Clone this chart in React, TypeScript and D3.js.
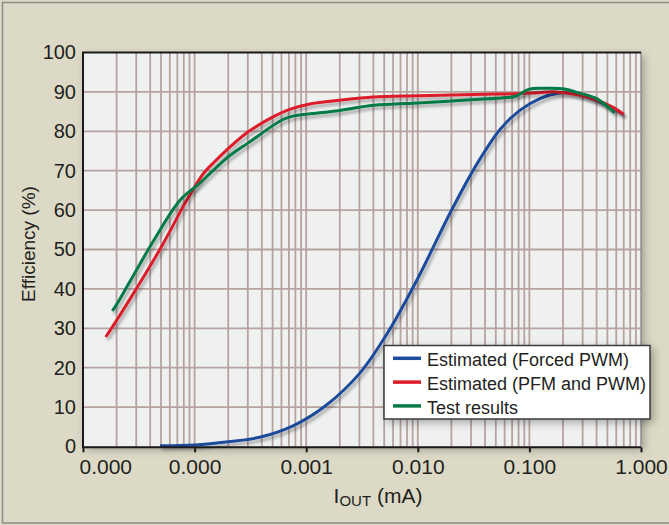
import React, { useEffect, useRef } from 'react';
import * as d3 from 'd3';

// Estimated (Forced PWM)
const forcedI = [4.9e-5, 1e-4, 2e-4, 3.9e-4, 7.7e-4, 1.5e-3, 3e-3, 5.3e-3, 9.8e-3, 2e-2, 3.4e-2, 5.5e-2, 8.2e-2, 0.124, 0.186, 0.25, 0.3, 0.4, 0.55, 0.7];
const forcedEff = [0.2, 0.4, 1.2, 2.4, 5.3, 10.4, 18.5, 28.6, 42.2, 59.9, 71.8, 80.6, 85.3, 88.3, 89.7, 89.6, 89, 87.8, 86, 84.2];

// Estimated (PFM and PWM)
const pfmI = [1.6e-5, 2e-5, 3e-5, 5e-5, 8.5e-5, 1.2e-4, 1.5e-4, 2e-4, 3e-4, 5e-4, 7e-4, 1.1e-3, 2e-3, 4e-3, 1e-2, 2e-2, 4e-2, 7e-2, 0.12, 0.17, 0.28, 0.4, 0.55, 0.7];
const pfmEff = [27.8, 32, 40, 50.5, 62.5, 69.3, 72.2, 75.6, 79.8, 83.6, 85.5, 87, 87.9, 88.7, 89, 89.2, 89.4, 89.5, 89.8, 90, 89.2, 87.9, 86.2, 84.3];

// Test results
const testI = [1.83e-5, 2e-5, 3e-5, 4.3e-5, 7.4e-5, 1.1e-4, 1.5e-4, 2e-4, 3e-4, 6.2e-4, 8e-4, 1.15e-3, 2e-3, 4e-3, 1e-2, 1.6e-2, 3e-2, 6.3e-2, 7.5e-2, 0.1, 0.13, 0.2, 0.28, 0.4, 0.58];
const testEff = [34.4, 36, 44.7, 52.3, 62.5, 66.7, 70.3, 73.5, 77, 83, 84, 84.5, 85.3, 86.6, 87.2, 87.5, 88, 88.6, 88.9, 90.7, 90.9, 90.8, 89.7, 88.3, 84.7];

const seriesNames = ['Estimated (Forced PWM)', 'Estimated (PFM and PWM)', 'Test results'];
const seriesColors = ['#1f4b9c', '#dd1c2a', '#067a46'];

const xTicks = [0.00001, 0.0001, 0.001, 0.01, 0.1, 1];
const yTicks = [0, 10, 20, 30, 40, 50, 60, 70, 80, 90, 100];

const font = '"Liberation Sans", Arial, sans-serif';
const ink = '#231f20';
const gridColor = '#b6a3a0';

const App = () => {
    const svgRef = useRef(null);

    useEffect(() => {
        const svg = d3.select(svgRef.current);
        svg.selectAll('*').remove();

        const width = 669, height = 525;
        const x = d3.scaleLog().domain([1e-5, 1]).range([83, 641]);
        const y = d3.scaleLinear().domain([0, 100]).range([446.5, 52.5]);

        // filters
        const defs = svg.append('defs');
        defs.append('filter').attr('id', 'lineShadow')
            .attr('x', '-10%').attr('y', '-10%').attr('width', '130%').attr('height', '130%')
            .append('feDropShadow')
            .attr('dx', 2).attr('dy', 3).attr('stdDeviation', 1.6)
            .attr('flood-color', '#000').attr('flood-opacity', 0.3);
        defs.append('filter').attr('id', 'boxShadow')
            .attr('x', '-10%').attr('y', '-10%').attr('width', '130%').attr('height', '130%')
            .append('feDropShadow')
            .attr('dx', 3).attr('dy', 3).attr('stdDeviation', 4)
            .attr('flood-color', '#000').attr('flood-opacity', 0.3);

        // page background
        svg.append('rect').attr('width', width).attr('height', height).attr('fill', '#dcdac6');
        svg.append('rect')
            .attr('x', 2.5).attr('y', 2.5).attr('width', 720).attr('height', 520.5)
            .attr('fill', 'none').attr('stroke', '#8d8c84').attr('stroke-width', 1.5);

        // plot area
        const [x0, x1] = x.range();
        const [yb, yt] = y.range();
        svg.append('rect')
            .attr('x', x0).attr('y', yt).attr('width', x1 - x0).attr('height', yb - yt)
            .attr('fill', '#eef1f0').attr('filter', 'url(#boxShadow)');

        // grid
        const grid = svg.append('g').attr('stroke', gridColor).attr('stroke-width', 1.8);
        grid.selectAll('line.v')
            .data(x.ticks().filter(d => x(d) > x0 + 1 && x(d) < x1 - 1))
            .enter().append('line')
            .attr('x1', d => x(d)).attr('x2', d => x(d))
            .attr('y1', yt).attr('y2', yb);
        grid.selectAll('line.h')
            .data(yTicks.filter(d => d > 0 && d < 100))
            .enter().append('line')
            .attr('x1', x0).attr('x2', x1)
            .attr('y1', d => y(d)).attr('y2', d => y(d));

        // curves
        const line = d3.line()
            .x(d => x(d[0]))
            .y(d => y(d[1]))
            .curve(d3.curveCatmullRom.alpha(0.5));
        const series = [
            d3.zip(forcedI, forcedEff),
            d3.zip(pfmI, pfmEff),
            d3.zip(testI, testEff),
        ];
        series.forEach((s, i) => {
            svg.append('path')
                .datum(s)
                .attr('fill', 'none')
                .attr('stroke', seriesColors[i])
                .attr('stroke-width', 3)
                .attr('stroke-linejoin', 'round')
                .attr('filter', 'url(#lineShadow)')
                .attr('d', line);
        });

        // frame
        svg.append('line').attr('x1', x1).attr('x2', x1).attr('y1', yt).attr('y2', yb)
            .attr('stroke', '#8f8f8f').attr('stroke-width', 1.5);
        svg.append('path')
            .attr('d', `M${x1},${yt}H${x0}V${yb + 0.8}H${x1}`)
            .attr('fill', 'none').attr('stroke', '#1a1a1a').attr('stroke-width', 2);

        // axes
        const xAxis = svg.append('g')
            .attr('transform', `translate(0,${yb + 0.8})`)
            .call(d3.axisBottom(x).tickValues(xTicks).tickSize(5).tickPadding(7).tickFormat(d3.format('.3f')));
        xAxis.select('.domain').remove();
        xAxis.selectAll('line').attr('stroke', '#1a1a1a').attr('stroke-width', 2);
        xAxis.selectAll('text')
            .attr('font-family', font).attr('font-size', 21).attr('fill', ink);
        xAxis.select('.tick text').attr('text-anchor', 'start').attr('x', -4);

        const yAxis = svg.append('g')
            .attr('transform', `translate(${x0},0)`)
            .call(d3.axisLeft(y).tickValues(yTicks).tickSize(0).tickPadding(7));
        yAxis.select('.domain').remove();
        yAxis.selectAll('text')
            .attr('font-family', font).attr('font-size', 20).attr('fill', ink);

        // axis titles
        svg.append('text')
            .attr('transform', 'translate(35,244) rotate(-90)')
            .attr('text-anchor', 'middle')
            .attr('font-family', font).attr('font-size', 19).attr('fill', ink)
            .text('Efficiency (%)');

        const xt = svg.append('text')
            .attr('x', 378).attr('y', 502.7)
            .attr('text-anchor', 'middle')
            .attr('font-family', font).attr('font-size', 21).attr('fill', ink);
        xt.append('tspan').text('I');
        xt.append('tspan').attr('font-size', 15).attr('dy', 3).text('OUT');
        xt.append('tspan').attr('dy', -3).text(' (mA)');

        // legend
        const lg = svg.append('g').attr('transform', 'translate(384,345.5)');
        lg.append('rect')
            .attr('width', 266).attr('height', 73.5)
            .attr('fill', '#ffffff').attr('stroke', '#3a3a3a').attr('stroke-width', 1.5)
            .attr('filter', 'url(#boxShadow)');
        const items = lg.selectAll('g.item')
            .data(seriesNames)
            .enter().append('g')
            .attr('transform', (d, i) => `translate(0,${12.8 + i * 23.8})`);
        items.append('line')
            .attr('x1', 9).attr('x2', 37)
            .attr('stroke', (d, i) => seriesColors[i]).attr('stroke-width', 3.5);
        items.append('text')
            .attr('x', 43).attr('y', 7.8)
            .attr('font-family', font).attr('font-size', 18).attr('fill', ink)
            .text(d => d);
    }, []);

    return <svg ref={svgRef} width={669} height={525} style={{ position: 'absolute', left: 0, top: 0 }}></svg>;
};

export default App;
